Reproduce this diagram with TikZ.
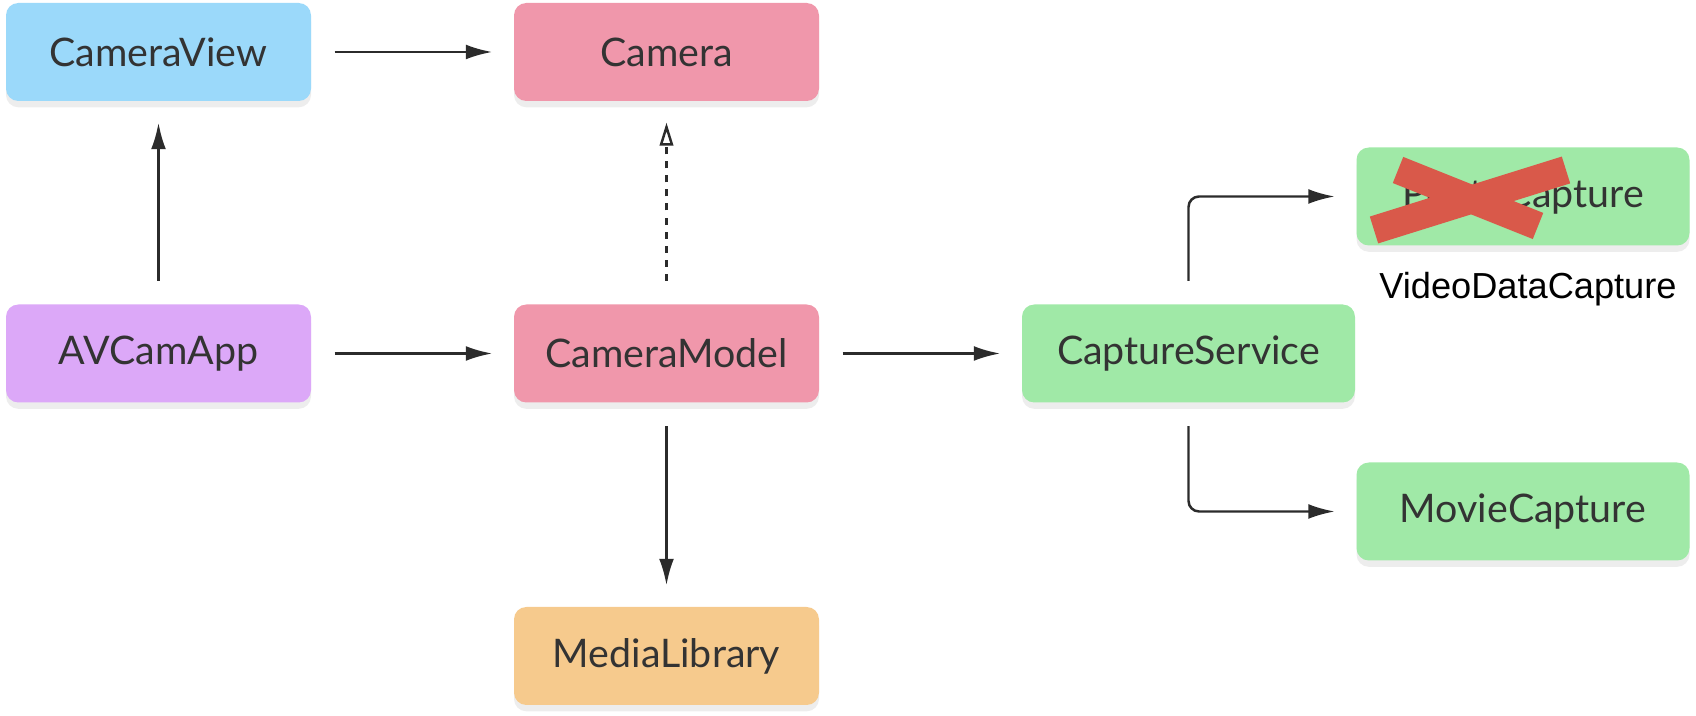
\documentclass[tikz,border=0pt]{standalone}
\usepackage{fontspec}
\setmainfont{Lato}
\newfontfamily\notefont{Liberation Sans}
\usetikzlibrary{arrows.meta,shadows}
\definecolor{viewblue}{HTML}{9BD9FA}
\definecolor{modelpink}{HTML}{F097AB}
\definecolor{apppurple}{HTML}{DCA8F8}
\definecolor{capturegreen}{HTML}{A0E9A7}
\definecolor{libraryorange}{HTML}{F6CA8D}
\definecolor{labelgray}{HTML}{333333}
\definecolor{linegray}{HTML}{2B2B2B}
\definecolor{crossred}{HTML}{D9594A}
\begin{document}
\begin{tikzpicture}[
    box/.style={rectangle, rounded corners=3.5pt, minimum width=3.05cm, minimum height=0.98cm,
        text=labelgray, font=\fontsize{11.2}{13}\selectfont,
        drop shadow={opacity=0.14, shadow xshift=0pt, shadow yshift=-1.8pt}},
    widebox/.style={box, minimum width=3.33cm},
    link/.style={draw=linegray, line width=0.7pt, -{Latex[length=7.5pt, width=4.2pt]},
        shorten <=0.23cm, shorten >=0.21cm},
    uses/.style={draw=linegray, line width=0.7pt, dash pattern=on 2pt off 2pt,
        -{Triangle[open, length=6.5pt, width=3.8pt]}, shorten <=0.23cm, shorten >=0.21cm}]
    \useasboundingbox (0, 0) rectangle (16.96, 7.16);
    \def \row {3.625}
    \node[box, fill=viewblue] (view) at (1.585, 6.64) {CameraView};
    \node[box, fill=modelpink] (camera) at (6.665, 6.64) {Camera};
    \node[box, fill=apppurple] (app) at (1.585, \row) {AVCamApp};
    \node[box, fill=modelpink] (model) at (6.665, \row) {CameraModel};
    \node[box, fill=libraryorange] (library) at (6.665, 0.60) {MediaLibrary};
    \node[widebox, fill=capturegreen] (service) at (11.885, \row) {CaptureService};
    \node[widebox, fill=capturegreen] (photo) at (15.23, 5.195) {PhotoCapture};
    \node[widebox, fill=capturegreen] (movie) at (15.23, 2.045) {MovieCapture};
    \node[font=\notefont\fontsize{10.3}{12}\selectfont] (videodata) at (15.28, 4.27) {VideoDataCapture};
    % crossed out
    \draw[crossred, line width=8pt] (13.98, 5.46) -- (15.38, 4.90);
    \draw[crossred, line width=8pt] (13.74, 4.86) -- (15.66, 5.46);
    \draw[link] (view) -- (camera);
    \draw[link] (app) -- (view);
    \draw[link] (app) -- (model);
    \draw[uses] (model) -- (camera);
    \draw[link] (model) -- (library);
    \draw[link] (model) -- (service);
    \draw[link, rounded corners=3pt] (service) |- (photo);
    \draw[link, rounded corners=3pt] (service) |- (movie);
\end{tikzpicture}
\end{document}
